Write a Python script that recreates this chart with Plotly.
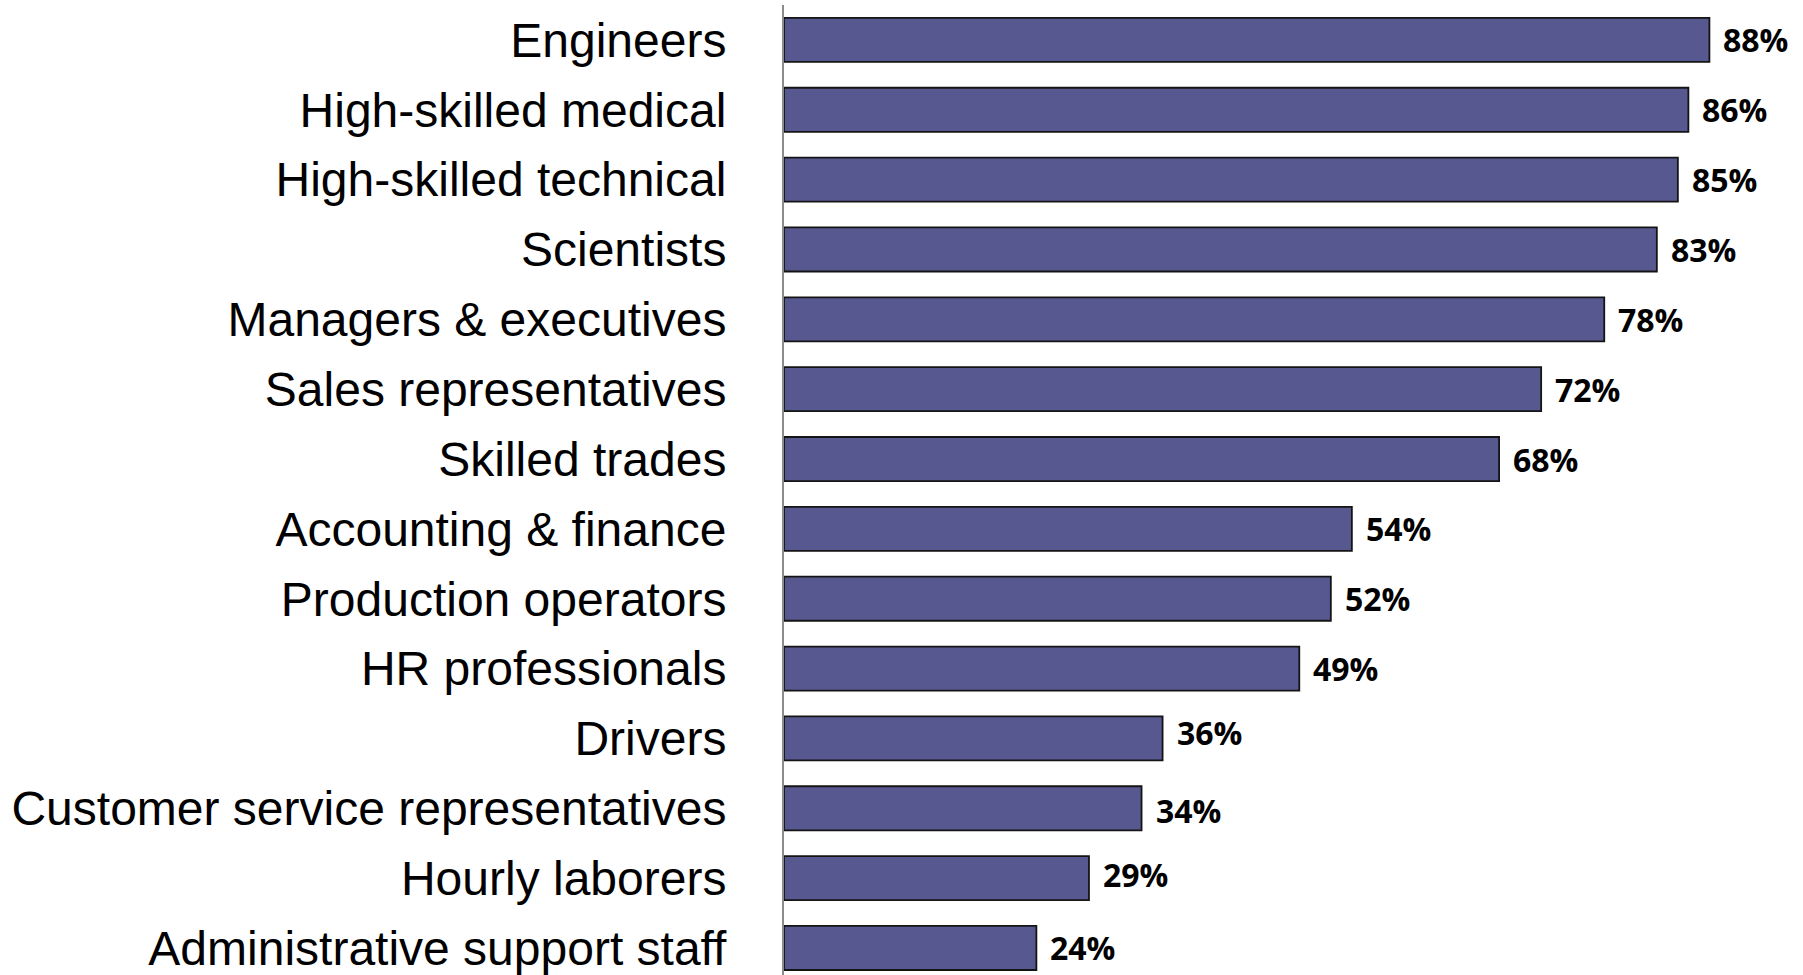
import plotly.graph_objects as go

categories = [
    "Engineers", "High-skilled medical", "High-skilled technical", "Scientists",
    "Managers & executives", "Sales representatives", "Skilled trades",
    "Accounting & finance", "Production operators", "HR professionals",
    "Drivers", "Customer service representatives", "Hourly laborers",
    "Administrative support staff",
]
values = [88, 86, 85, 83, 78, 72, 68, 54, 52, 49, 36, 34, 29, 24]
labels = [f"{v}%" for v in values]

# small vertical nudges of the value labels, as in the original
label_yshift = [0, 0, 0, 0, 0, 0, 0, 0, 0, 0, 6, -2, 4, 0]

fig = go.Figure(go.Bar(
    x=values, y=categories, orientation="h",
    marker=dict(color="#585890", line=dict(color="#141414", width=1.8)),
    hoverinfo="skip",
))

for c, v, t, dy in zip(categories, values, labels, label_yshift):
    fig.add_annotation(x=v, y=c, text=f"<b>{t}</b>", showarrow=False,
                       xanchor="left", xshift=12, yshift=dy,
                       font=dict(family="Open Sans", size=32, color="black"))

fig.update_layout(
    width=1803, height=975,
    margin=dict(l=784, r=0, t=5, b=0),
    paper_bgcolor="white", plot_bgcolor="white",
    bargap=0.37, showlegend=False,
    xaxis=dict(range=[0, 96.9], visible=False, fixedrange=True),
    yaxis=dict(
        categoryorder="array", categoryarray=categories,
        range=[-0.5 + 970 / 69.85, -0.5],
        showline=True, linecolor="#8c8c8c", linewidth=2,
        ticks="outside", ticklen=46, tickcolor="rgba(0,0,0,0)",
        tickfont=dict(family="Arial, 'Liberation Sans', sans-serif", size=48, color="black"),
        showgrid=False, zeroline=False, fixedrange=True,
    ),
)

fig.write_html("out.html")
